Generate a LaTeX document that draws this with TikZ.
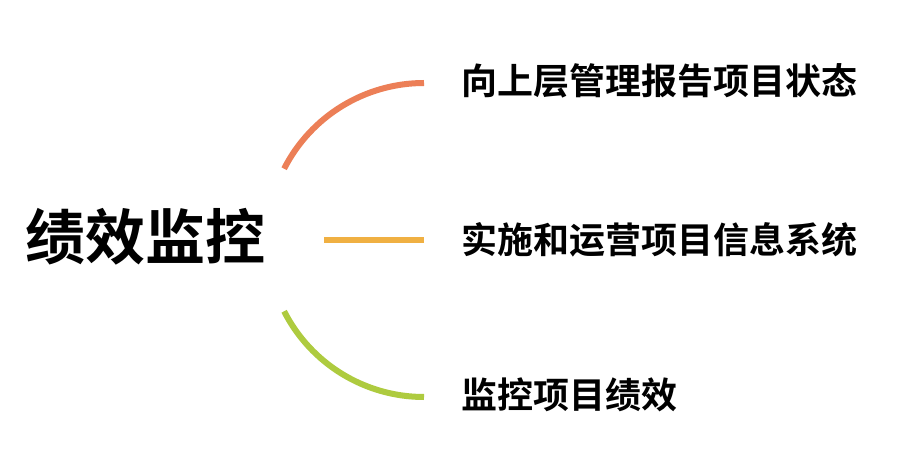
\documentclass[tikz,border=0pt]{standalone}
\usepackage{fontspec}
\newfontfamily\cjk{Noto Sans CJK SC Bold}
\definecolor{arcorange}{HTML}{EC7F57}
\definecolor{arcyellow}{HTML}{F0B042}
\definecolor{arcgreen}{HTML}{AECB3F}
\begin{document}
\begin{tikzpicture}[x=1pt,y=1pt,
  label/.style={anchor=base west,inner sep=0pt,font=\cjk\fontsize{36}{40}\selectfont,text=black},
  title/.style={anchor=base west,inner sep=0pt,font=\cjk\fontsize{60}{66}\selectfont,text=black},
  link/.style={line width=6pt,line cap=butt}]
\useasboundingbox[fill=white] (0,0) rectangle (912,466);
% title
\node[title] (t) at (25,206) {绩效监控};
% labels
\node[label] (a) at (461,371) {向上层管理报告项目状态};
\node[label] (b) at (461,212) {实施和运营项目信息系统};
\node[label] (c) at (461,58) {监控项目绩效};
% connectors
\coordinate (ctr) at (424,226);
\draw[link,arcorange] ([shift={(153:157)}]ctr) arc[start angle=153,end angle=90,radius=157];
\draw[link,arcyellow] (324,226) -- (424,226);
\draw[link,arcgreen] ([shift={(207:157)}]ctr) arc[start angle=207,end angle=270,radius=157];
\end{tikzpicture}
\end{document}
